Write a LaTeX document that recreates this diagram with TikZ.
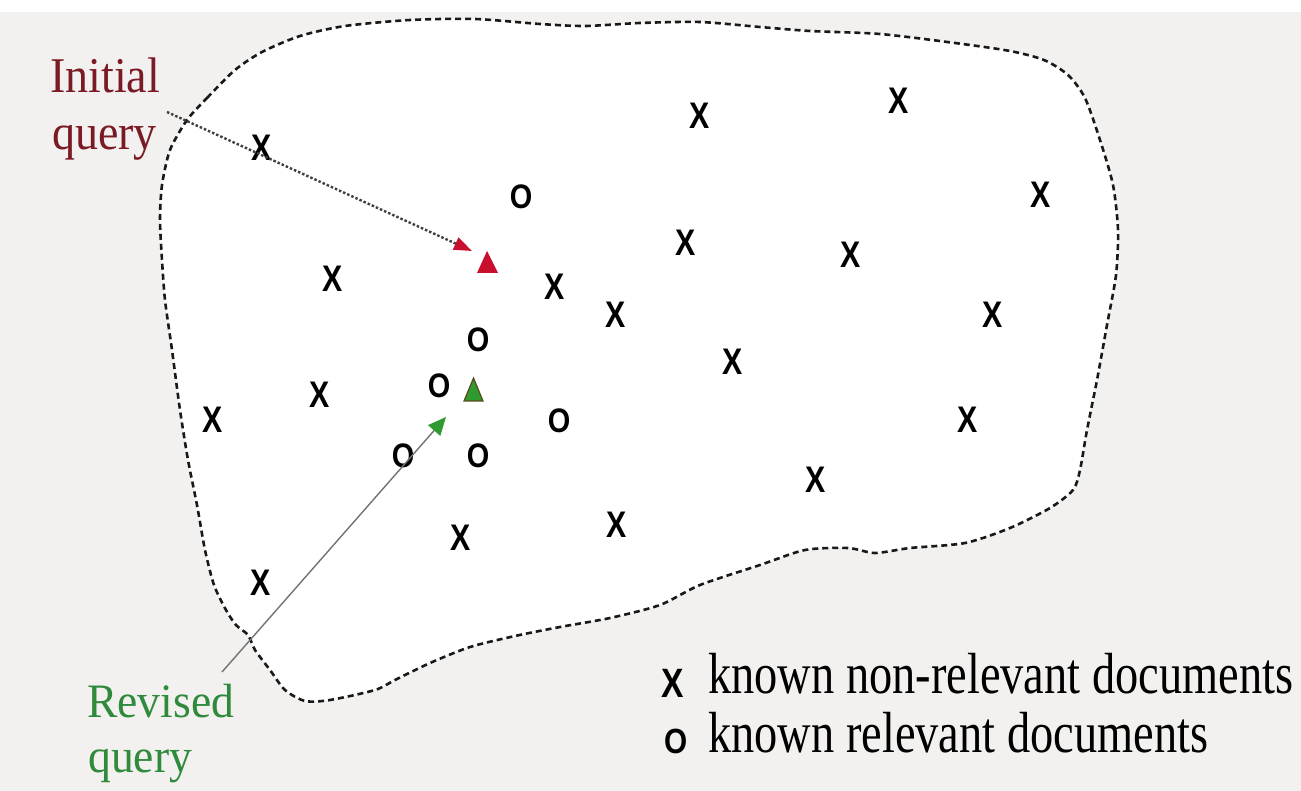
\documentclass[tikz,border=0pt]{standalone}
\usepackage{fontspec}
\setmainfont{Liberation Serif}
\newfontfamily\mkfont{Liberation Sans}
\usetikzlibrary{arrows.meta}
\definecolor{bgcol}{HTML}{F2F1EF}
\definecolor{initcol}{HTML}{7A1A24}
\definecolor{redtri}{HTML}{C8102E}
\definecolor{revcol}{HTML}{2F8A3C}
\definecolor{greentri}{HTML}{2E9A30}
\definecolor{greenedge}{HTML}{5A4A1A}
\newcommand\mkX{\scalebox{0.82}[1]{X}}
\newcommand\mkO{\scalebox{0.85}[1]{O}}
\begin{document}
\begin{tikzpicture}[x=1pt,y=-1pt,
  mx/.style={inner sep=0pt, font=\mkfont\bfseries\fontsize{37}{37}\selectfont},
  mo/.style={inner sep=0pt, font=\mkfont\bfseries\fontsize{34}{34}\selectfont},
  lmx/.style={inner sep=0pt, font=\mkfont\bfseries\fontsize{41}{41}\selectfont},
  lmo/.style={inner sep=0pt, font=\mkfont\bfseries\fontsize{35}{35}\selectfont},
  initlbl/.style={inner sep=0pt, anchor=base west, text=initcol, font=\fontsize{50}{50}\selectfont},
  revlbl/.style={inner sep=0pt, anchor=base west, text=revcol, font=\fontsize{48}{48}\selectfont},
  leglbl/.style={inner sep=0pt, anchor=base west, font=\fontsize{58}{58}\selectfont},
  blob/.style={draw=black!90, line width=2.6pt, dash pattern=on 6pt off 4pt, fill=white},
  initarrow/.style={draw=black!75, line width=2.4pt, dash pattern=on 2.5pt off 2pt,
     -{Triangle[length=18pt,width=13pt,color=redtri,fill=redtri]}},
  revarrow/.style={draw=black!55, line width=1.4pt,
     -{Triangle[length=18pt,width=16pt,color=greentri,fill=greentri]}}
]
\useasboundingbox (0,0) rectangle (1301,791);
\fill[bgcol] (0,0) rectangle (1301,791);
\fill[white] (0,0) rectangle (1301,12);

% document space
\path[blob] plot[smooth cycle, tension=0.45] coordinates {
(187,120) (207,98) (235,70) (262,52) (300,36) (345,26) (410,20) (475,19)
(540,24) (585,26) (640,23) (700,22) (760,27) (810,31) (880,34) (955,43)
(1010,51) (1044,60) (1068,75) (1085,98) (1100,140) (1113,185) (1118,230)
(1116,275) (1107,325) (1097,380) (1087,430) (1080,470) (1073,490) (1050,508)
(1010,528) (965,543) (910,548) (875,553) (848,548) (805,550) (760,565)
(700,585) (660,605) (610,618) (560,627) (515,636) (470,647) (430,663)
(395,680) (375,690) (330,700) (305,701) (285,690) (270,670) (255,650)
(248,635) (236,625) (226,610) (214,585) (205,550) (197,505) (188,460)
(180,410) (172,350) (165,300) (162,260) (160,220) (162,185) (170,150)};

% non-relevant documents
\node[mx] (x1) at (262,148) {\mkX};
\node[mx] (x2) at (700,116) {\mkX};
\node[mx] (x3) at (899,101) {\mkX};
\node[mx] (x4) at (1041,195) {\mkX};
\node[mx] (x5) at (686,243) {\mkX};
\node[mx] (x6) at (851,255) {\mkX};
\node[mx] (x7) at (333,279) {\mkX};
\node[mx] (x8) at (555,287) {\mkX};
\node[mx] (x9) at (616,315) {\mkX};
\node[mx] (x10) at (993,315) {\mkX};
\node[mx] (x11) at (733,362) {\mkX};
\node[mx] (x12) at (320,395) {\mkX};
\node[mx] (x13) at (213,420) {\mkX};
\node[mx] (x14) at (968,420) {\mkX};
\node[mx] (x15) at (816,480) {\mkX};
\node[mx] (x16) at (461,538) {\mkX};
\node[mx] (x17) at (617,525) {\mkX};
\node[mx] (x18) at (261,583) {\mkX};

% relevant documents
\node[mo] (o1) at (521,197) {\mkO};
\node[mo] (o2) at (478,340) {\mkO};
\node[mo] (o3) at (439,386) {\mkO};
\node[mo] (o4) at (559,421) {\mkO};
\node[mo] (o5) at (403,456) {\mkO};
\node[mo] (o6) at (478,456) {\mkO};

% queries
\fill[redtri] (477,273) -- (498,273) -- (487,251) -- cycle;
\filldraw[fill=greentri, draw=greenedge, line width=1.2pt] (464,401) -- (483,401) -- (473.5,378) -- cycle;

% labels
\node[initlbl] (init1) at (50,93) {\scalebox{0.92}[1]{Initial}};
\node[initlbl] (init2) at (52,150) {\scalebox{0.92}[1]{query}};
\node[revlbl] (rev1) at (87,717) {\scalebox{0.95}[1]{Revised}};
\node[revlbl] (rev2) at (88,772) {\scalebox{0.95}[1]{query}};

\coordinate (initstart) at (167,112);
\coordinate (inittip) at (472,251);
\coordinate (revstart) at (222,672);
\coordinate (revtip) at (446,417);
\draw[initarrow] (initstart) -- (inittip);
\draw[revarrow] (revstart) -- (revtip);

% legend
\node[lmx] (lx) at (673,683) {\mkX};
\node[leglbl] (l1) at (708,693) {\scalebox{0.8}[1]{known non-relevant documents}};
\node[lmo] (lo) at (676,741) {\mkO};
\node[leglbl] (l2) at (708,752) {\scalebox{0.8}[1]{known relevant documents}};
\end{tikzpicture}
\end{document}
